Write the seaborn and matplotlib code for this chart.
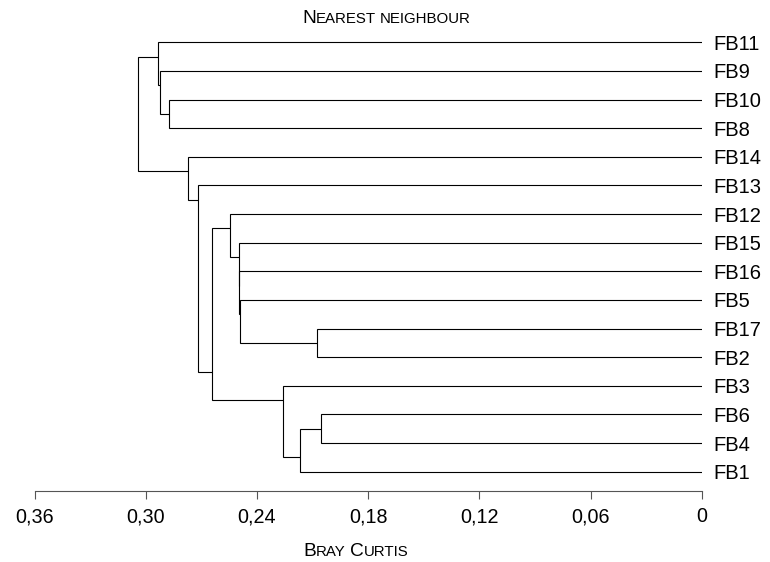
import numpy as np
import pandas as pd
import seaborn as sns
import matplotlib
matplotlib.use("Agg")
import matplotlib.pyplot as plt

# leaves, top to bottom as drawn
labels = ['FB11', 'FB9', 'FB10', 'FB8', 'FB14', 'FB13', 'FB12', 'FB15',
          'FB16', 'FB5', 'FB17', 'FB2', 'FB3', 'FB6', 'FB4', 'FB1']

# single linkage merges (leaf ids 0..15, clusters 16+), Bray-Curtis distance
merge_top = [13, 10, 16, 12, 9, 8, 7, 6, 23, 5, 4, 2, 1, 0, 29]
merge_bottom = [14, 11, 15, 18, 17, 20, 21, 22, 19, 24, 25, 3, 27, 28, 26]
merge_height = [0.2055, 0.2075, 0.2168, 0.2258, 0.2491, 0.2495, 0.2499, 0.2546,
                0.2641, 0.2717, 0.2775, 0.2873, 0.2924, 0.2933, 0.3044]

tick_vals = [0.36, 0.30, 0.24, 0.18, 0.12, 0.06, 0.0]
tick_labels = ['0,36', '0,30', '0,24', '0,18', '0,12', '0,06', '0']

W, H = 770, 562

sns.set_theme(style='white')
plt.rcParams['font.family'] = ['Liberation Sans', 'DejaVu Sans']

fig = plt.figure(figsize=(W / 100, H / 100), dpi=100)
ax = fig.add_axes([34.7 / W, 1 - 490.7 / H, (701.7 - 34.7) / W, (490.7 - 30) / H])

# build node table: x = height, y = position, leaf span
n = len(labels)
nodes = pd.DataFrame({'x': np.zeros(n), 'y': np.arange(n, dtype=float),
                      'first': np.arange(n), 'last': np.arange(n)})
for a, b, h in zip(merge_top, merge_bottom, merge_height):
    ta, tb = nodes.loc[a], nodes.loc[b]
    ax.plot([ta.x, h, h, tb.x], [ta.y, ta.y, tb.y, tb.y], color='black', lw=0.8,
            solid_joinstyle='miter')
    ypos = (ta['last'] + tb['first']) / 2
    nodes.loc[len(nodes)] = [h, ypos, ta['first'], tb['last']]

ax.set_xlim(0.36, 0)
ax.set_ylim(15 + (490.7 - 471.7) / 28.63, (30 - 42.3) / 28.63)

ax.set_xticks(tick_vals)
ax.set_xticklabels(tick_labels)
ax.yaxis.tick_right()
ax.set_yticks(range(n))
ax.set_yticklabels(labels)

ax.tick_params(axis='x', direction='out', length=5.8, width=0.8, color='#555555',
               labelsize=14.2, pad=6.0, labelcolor='black', bottom=True)
ax.tick_params(axis='y', length=0, pad=8.5, labelsize=14.5, labelcolor='black')
sns.despine(ax=ax, left=True, top=True, right=True)
ax.spines['bottom'].set_color('#555555')
ax.spines['bottom'].set_linewidth(0.8)
ax.grid(False)


def small_caps(xc, yb, text, big=13.8, small=10.8):
    # draw text in small capitals, centred at xc, baseline yb (figure pixels)
    r = fig.canvas.get_renderer()
    pieces = []
    gap = 0.278 * small * 100 / 72
    for wi, word in enumerate(text.split(' ')):
        runs = []
        for ch in word:
            size = big if ch.isupper() else small
            if runs and runs[-1][1] == size:
                runs[-1][0] += ch.upper()
            else:
                runs.append([ch.upper(), size])
        for k, (s, size) in enumerate(runs):
            t = fig.text(0, yb / H, s, fontsize=size, va='baseline', ha='left',
                         color='black')
            pieces.append((t, gap if (wi > 0 and k == 0) else 0.0))
    widths = [t.get_window_extent(r).width for t, _ in pieces]
    total = sum(widths) + sum(g for _, g in pieces)
    x0 = xc - total / 2
    for (t, g), w in zip(pieces, widths):
        x0 += g
        t.set_x(x0 / W)
        x0 += w


small_caps(386.5, H - 22.7, 'Nearest neighbour')
small_caps(356, H - 556.5, 'Bray Curtis')

fig.savefig('out.png', dpi=100)
